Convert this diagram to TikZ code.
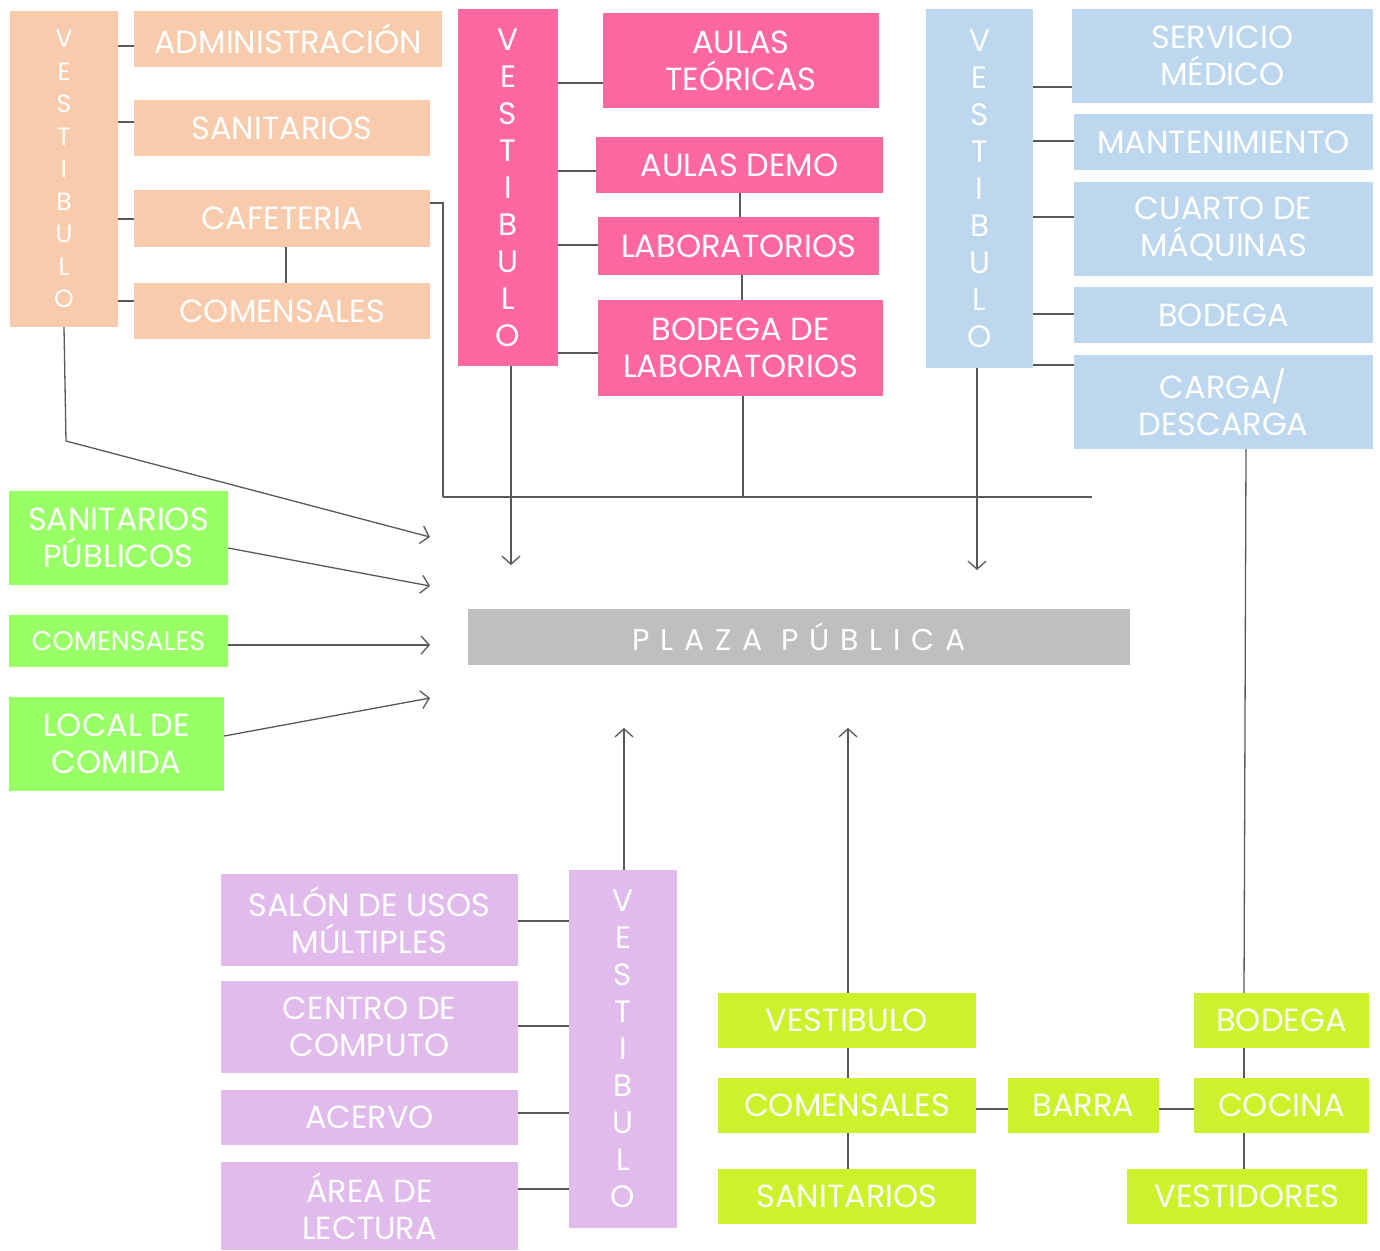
\documentclass[tikz,border=0pt]{standalone}
\usepackage{fontspec}
\setmainfont{Poppins}
\usetikzlibrary{arrows.meta}
\definecolor{peach}{HTML}{F8CBAD}
\definecolor{pinkc}{HTML}{FF67A0}
\definecolor{bluec}{HTML}{BDD7EE}
\definecolor{greenc}{HTML}{99FF66}
\definecolor{grayc}{HTML}{BFBFBF}
\definecolor{purplec}{HTML}{E0BBEB}
\definecolor{limec}{HTML}{CCF22C}
\definecolor{linec}{HTML}{595959}
\tikzset{
  box/.style={inner sep=0pt, text=white, align=center, font=\fontsize{32}{37}\selectfont},
  sz/.style 2 args={minimum width=#1pt, minimum height=#2pt},
  pbox/.style={box, fill=peach},
  kbox/.style={box, fill=pinkc},
  bbox/.style={box, fill=bluec},
  gbox/.style={box, fill=greenc},
  ubox/.style={box, fill=purplec},
  lbox/.style={box, fill=limec},
  vert/.style={font=\fontsize{31}{37}\selectfont},
  conn/.style={draw=linec, line width=1.3pt},
  arr/.style={conn, -{Straight Barb[length=8pt,width=18pt,line width=1.3pt]}},
}
\begin{document}
\begin{tikzpicture}[x=1pt,y=-1pt]
\useasboundingbox (0,0) rectangle (1380,1250);
% ---------- peach group
\node[pbox, sz={108}{316}, font=\fontsize{25}{32.5}\selectfont] (pv) at (64,169) {V\\E\\S\\T\\I\\B\\U\\L\\O};
\node[pbox, sz={308}{56}] (adm) at (288,39) {ADMINISTRACIÓN};
\node[pbox, sz={296}{56}] (psan) at (282,128) {SANITARIOS};
\node[pbox, sz={296}{57}] (caf) at (282,218.5) {CAFETERIA};
\node[pbox, sz={296}{56}] (pcom) at (282,311) {COMENSALES};
\draw[conn] (pv.east |- 0,46) -- (adm.west |- 0,46);
\draw[conn] (pv.east |- 0,122) -- (psan.west |- 0,122);
\draw[conn] (pv.east |- 0,219) -- (caf.west |- 0,219);
\draw[conn] (pv.east |- 0,301) -- (pcom.west |- 0,301);
\draw[conn] (caf.south -| 286,0) -- (pcom.north -| 286,0);
\coordinate (hl) at (443,497);
\coordinate (hr) at (1092,497);
\draw[conn] (caf.east |- 0,203) -- (hl |- 0,203) -- (hl);
\draw[conn] (hl) -- (hr);
\coordinate (ta1) at (430,537);
\draw[arr] (pv.south) -- (66,441) -- (ta1);
% ---------- pink group
\node[kbox, sz={100}{357}, vert] (kv) at (508,187.5) {V\\E\\S\\T\\I\\B\\U\\L\\O};
\node[kbox, sz={276}{95}] (aul) at (741,60.5) {AULAS\\TEÓRICAS};
\node[kbox, sz={287}{56}] (demo) at (739.5,165) {AULAS DEMO};
\node[kbox, sz={281}{58}] (lab) at (738.5,246) {LABORATORIOS};
\node[kbox, sz={285}{96}] (blab) at (740.5,348) {BODEGA DE\\LABORATORIOS};
\draw[conn] (kv.east |- 0,83) -- (aul.west |- 0,83);
\draw[conn] (kv.east |- 0,171) -- (demo.west |- 0,171);
\draw[conn] (kv.east |- 0,245) -- (lab.west |- 0,245);
\draw[conn] (kv.east |- 0,353) -- (blab.west |- 0,353);
\draw[conn] (demo.south -| 740,0) -- (lab.north -| 740,0);
\draw[conn] (lab.south -| 742,0) -- (blab.north -| 742,0);
\draw[conn] (blab.south -| 743,0) -- (hl -| 743,0);
\coordinate (ta2) at (511,565);
\draw[arr] (ta2 |- kv.south) -- (ta2);
% ---------- blue group
\node[bbox, sz={107}{359}, vert] (bv) at (979.5,188.5) {V\\E\\S\\T\\I\\B\\U\\L\\O};
\node[bbox, sz={301}{94}] (med) at (1222.5,56) {SERVICIO\\MÉDICO};
\node[bbox, sz={299}{56}] (mant) at (1223.5,142) {MANTENIMIENTO};
\node[bbox, sz={299}{94}] (maq) at (1223.5,229) {CUARTO DE\\MÁQUINAS};
\node[bbox, sz={299}{56}] (bbod) at (1223.5,315) {BODEGA};
\node[bbox, sz={299}{94}] (carga) at (1223.5,402) {CARGA/\\DESCARGA};
\draw[conn] (bv.east |- 0,87) -- (med.west |- 0,87);
\draw[conn] (bv.east |- 0,141) -- (mant.west |- 0,141);
\draw[conn] (bv.east |- 0,217) -- (maq.west |- 0,217);
\draw[conn] (bv.east |- 0,314) -- (bbod.west |- 0,314);
\draw[conn] (bv.east |- 0,365) -- (carga.west |- 0,365);
\coordinate (ta3) at (977,570);
\draw[arr] (ta3 |- bv.south) -- (ta3);
% ---------- green left
\node[gbox, sz={219}{94}] (spub) at (118.5,538) {SANITARIOS\\PÚBLICOS};
\node[gbox, sz={219}{52}, font=\fontsize{27}{30}\selectfont] (gcom) at (118.5,641) {COMENSALES};
\node[gbox, sz={215}{94}] (loc) at (116.5,744) {LOCAL DE\\COMIDA};
\coordinate (ta4) at (430,586);
\coordinate (ta5) at (430,645);
\coordinate (ta6) at (430,698);
\draw[arr] (spub.east |- 0,548) -- (ta4);
\draw[arr] (gcom.east |- ta5) -- (ta5);
\draw[arr] (loc.east |- 0,736) -- (ta6);
% ---------- plaza
\node[box, fill=grayc, sz={662}{56}, font=\fontsize{30}{32}\selectfont\addfontfeature{LetterSpace=36}] (plaza) at (799,637) {PLAZA PÚBLICA};
% ---------- purple group
\node[ubox, sz={297}{92}] (sum) at (369.5,920) {SALÓN DE USOS\\MÚLTIPLES};
\node[ubox, sz={297}{92}] (cc) at (369.5,1027) {CENTRO DE\\COMPUTO};
\node[ubox, sz={297}{55}] (ace) at (369.5,1117.5) {ACERVO};
\node[ubox, sz={297}{88}] (lec) at (369.5,1206) {ÁREA DE\\LECTURA};
\node[ubox, sz={108}{358}, vert] (uv) at (623,1049) {V\\E\\S\\T\\I\\B\\U\\L\\O};
\draw[conn] (sum.east |- 0,921) -- (uv.west |- 0,921);
\draw[conn] (cc.east |- 0,1026) -- (uv.west |- 0,1026);
\draw[conn] (ace.east |- 0,1113) -- (uv.west |- 0,1113);
\draw[conn] (lec.east |- 0,1189) -- (uv.west |- 0,1189);
\coordinate (ta7) at (624,728);
\draw[arr] (ta7 |- uv.north) -- (ta7);
% ---------- lime group
\node[lbox, sz={258}{55}] (lv) at (847,1020.5) {VESTIBULO};
\node[lbox, sz={258}{55}] (lcom) at (847,1105.5) {COMENSALES};
\node[lbox, sz={258}{55}] (lsan) at (847,1196.5) {SANITARIOS};
\node[lbox, sz={151}{55}] (bar) at (1083.5,1105.5) {BARRA};
\node[lbox, sz={175}{55}] (lbod) at (1281.5,1020.5) {BODEGA};
\node[lbox, sz={175}{55}] (coc) at (1281.5,1105.5) {COCINA};
\node[lbox, sz={240}{55}] (ves) at (1247,1196.5) {VESTIDORES};
\coordinate (ta8) at (848,728);
\draw[arr] (ta8 |- lv.north) -- (ta8);
\draw[conn] (lv.south -| ta8) -- (lcom.north -| ta8);
\draw[conn] (lcom.south -| ta8) -- (lsan.north -| ta8);
\draw[conn] (lcom.east |- 0,1109) -- (bar.west |- 0,1109);
\draw[conn] (bar.east |- 0,1109) -- (coc.west |- 0,1109);
\draw[conn] (lbod.south -| 1244,0) -- (coc.north -| 1244,0);
\draw[conn] (coc.south -| 1244,0) -- (ves.north -| 1244,0);
\draw[conn] (carga.south -| 1246,0) -- (lbod.north -| 1244,0);
\end{tikzpicture}
\end{document}
